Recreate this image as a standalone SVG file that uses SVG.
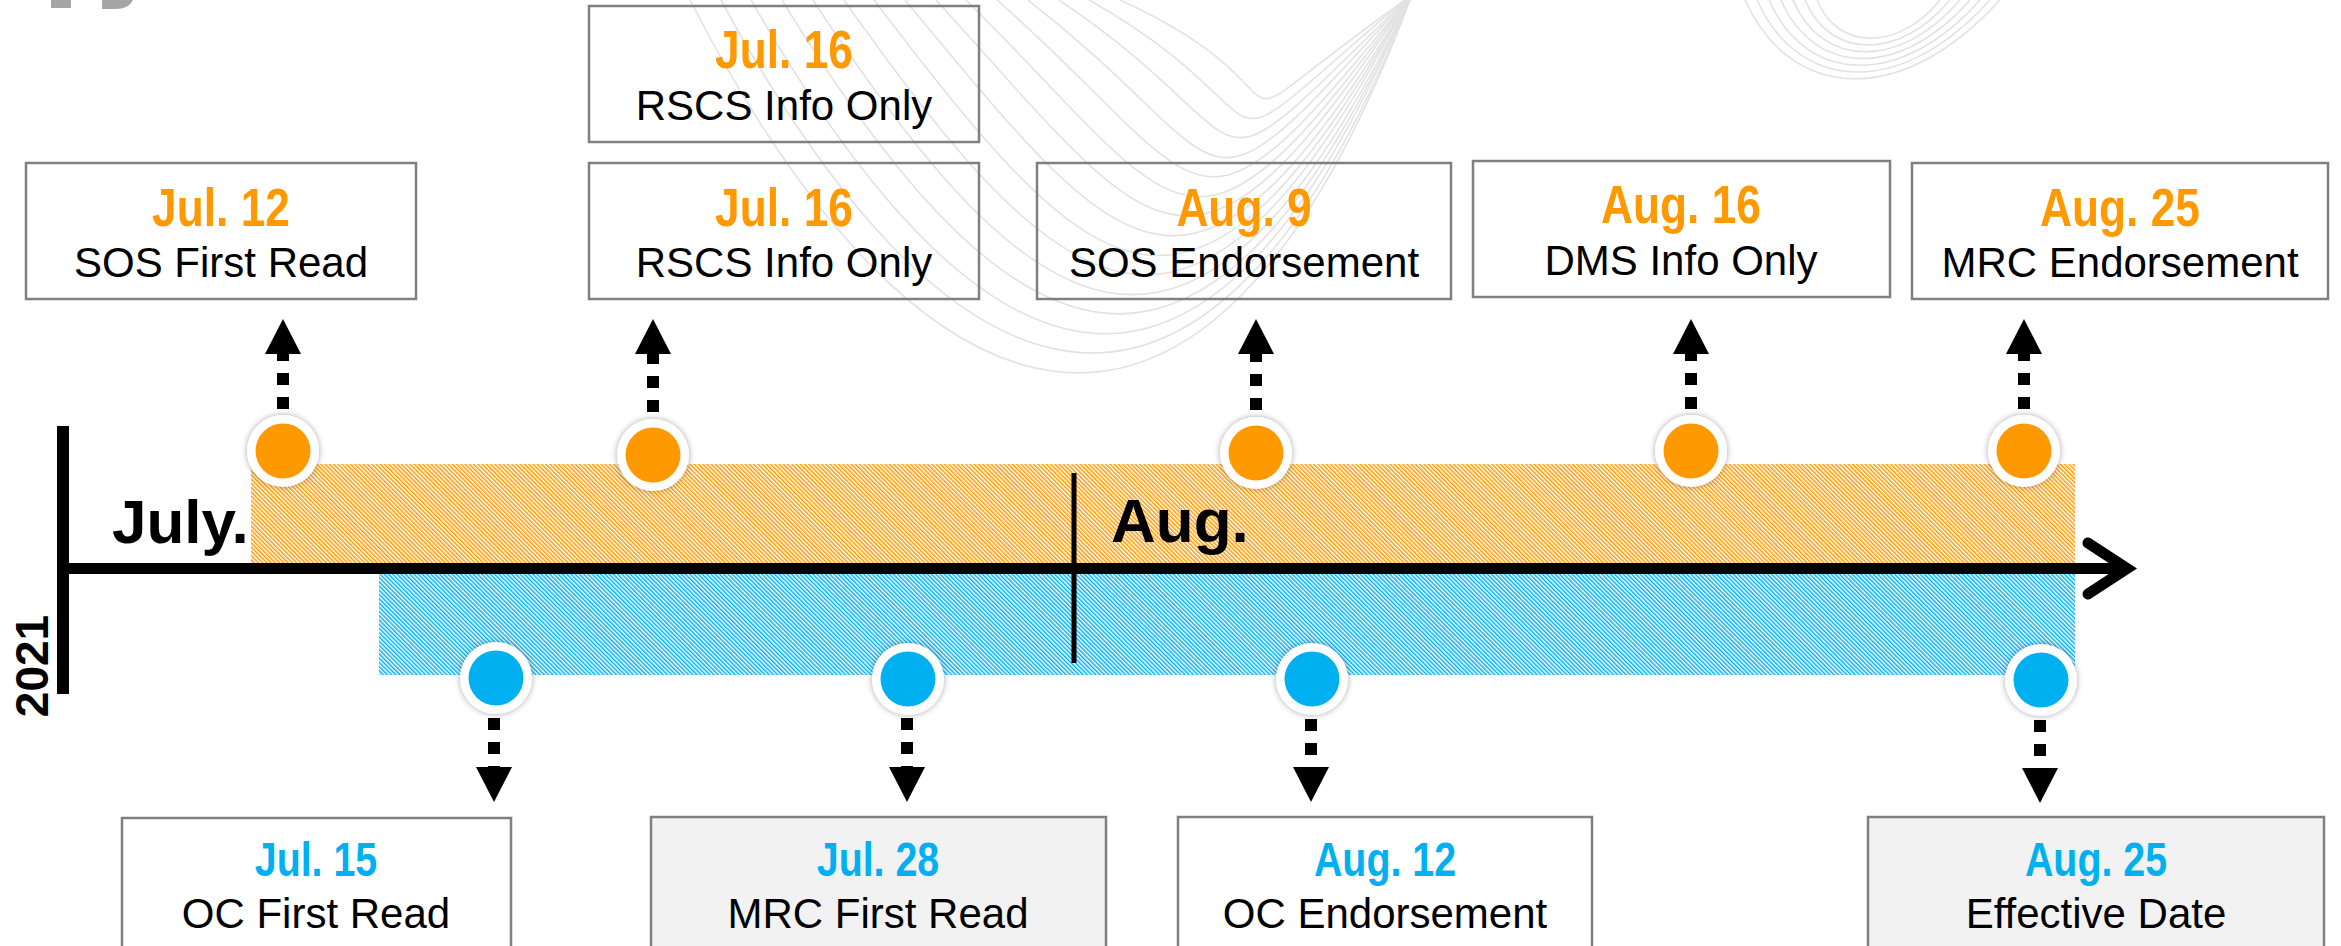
<svg xmlns="http://www.w3.org/2000/svg" width="2341" height="946" viewBox="0 0 2341 946">
<style>
.bx{fill:none;stroke:#808080;stroke-width:2.5}
.bxg{fill:#F2F2F2;stroke:#808080;stroke-width:2.5}
.dt{font-family:"Liberation Sans",Arial,sans-serif;font-weight:bold;text-anchor:middle}
.top{font-size:54px}
.bot{font-size:48px}
.o{fill:#FF9900}
.b{fill:#00B0F0}
.lb{font-family:"Liberation Sans",Arial,sans-serif;font-size:42px;fill:#000;text-anchor:middle}
.mo{font-family:"Liberation Sans",Arial,sans-serif;font-size:62px;font-weight:bold;fill:#000}
.wave{fill:none;stroke:#e2e2e2;stroke-width:1.6}
.dash{stroke:#000;stroke-width:12;stroke-dasharray:12 12;fill:none}
.ring{fill:#fff;filter:url(#sh)}
</style>
<defs>
<pattern id="hO" patternUnits="userSpaceOnUse" width="3" height="3" patternTransform="rotate(-45)">
<rect x="0" y="0" width="1.5" height="3" fill="#FF9900"/>
</pattern>
<pattern id="hB" patternUnits="userSpaceOnUse" width="3" height="3" patternTransform="rotate(-45)">
<rect x="0" y="0" width="1.5" height="3" fill="#00B0F0"/>
</pattern>
<filter id="sh" x="-50%" y="-50%" width="200%" height="200%">
<feDropShadow dx="0" dy="0" stdDeviation="3" flood-color="#000" flood-opacity="0.35"/>
</filter>
</defs>
<rect x="0" y="0" width="2341" height="946" fill="#fff"/>
<g id="background">
<g id="waves-main">
<path class="wave" d="M690,0 C910,430 1200,560 1410,0"/>
<path class="wave" d="M721,0 C941,406 1199,531 1410,0"/>
<path class="wave" d="M751,0 C971,383 1197,503 1409,0"/>
<path class="wave" d="M782,0 C1002,359 1196,474 1409,0"/>
<path class="wave" d="M813,0 C1033,336 1194,446 1409,0"/>
<path class="wave" d="M844,0 C1064,312 1193,417 1408,0"/>
<path class="wave" d="M874,0 C1094,289 1191,389 1408,0"/>
<path class="wave" d="M905,0 C1125,265 1190,360 1408,0"/>
<path class="wave" d="M936,0 C1156,241 1189,331 1407,0"/>
<path class="wave" d="M966,0 C1186,218 1187,303 1407,0"/>
<path class="wave" d="M997,0 C1217,194 1186,274 1407,0"/>
<path class="wave" d="M1028,0 C1248,171 1184,246 1406,0"/>
<path class="wave" d="M1059,0 C1279,147 1183,217 1406,0"/>
<path class="wave" d="M1089,0 C1309,124 1181,189 1405,0"/>
<path class="wave" d="M1120,0 C1340,100 1180,160 1405,0"/>
</g>
<g id="waves-right">
<path class="wave" d="M1745,0 C1790,100 1900,110 2000,0"/>
<path class="wave" d="M1757,0 C1798,92 1900,100 1990,0"/>
<path class="wave" d="M1769,0 C1806,84 1900,90 1980,0"/>
<path class="wave" d="M1781,0 C1814,76 1900,80 1970,0"/>
<path class="wave" d="M1793,0 C1822,68 1900,70 1960,0"/>
<path class="wave" d="M1805,0 C1830,60 1900,60 1950,0"/>
<path class="wave" d="M1817,0 C1838,52 1900,50 1940,0"/>
</g>
<g id="logo-fragment" fill="#A6A6A6">
<rect x="51" y="0" width="20" height="8"/>
<path d="M102,0 H133 C130,6 124,9 116,9 H102 Z"/>
</g>
</g>
<g id="bands">
<rect id="band-orange" x="251" y="464" width="1824" height="99" fill="url(#hO)"/>
<rect id="band-blue" x="379" y="574" width="1696" height="101" fill="url(#hB)"/>
</g>
<g id="axis">
<rect x="57" y="426" width="12" height="268" fill="#000"/>
<line x1="60" y1="568.5" x2="2125" y2="568.5" stroke="#000" stroke-width="11"/>
<polyline points="2088,543 2127,568.5 2088,594" fill="none" stroke="#000" stroke-width="11" stroke-linecap="round"/>
<rect x="1071.5" y="473" width="5" height="190" fill="#000"/>
<text class="mo" x="112" y="543">July.</text>
<text class="mo" x="1111" y="542">Aug.</text>
<text class="mo" style="font-size:46px" text-anchor="middle" transform="translate(48,666) rotate(-90)">2021</text>
</g>
<g id="connectors">
<line class="dash" x1="283" y1="409" x2="283" y2="352"/>
<polygon points="265,354 301,354 283,319"/>
<line class="dash" x1="653" y1="412" x2="653" y2="352"/>
<polygon points="635,354 671,354 653,319"/>
<line class="dash" x1="1256" y1="410" x2="1256" y2="352"/>
<polygon points="1238,354 1274,354 1256,319"/>
<line class="dash" x1="1691" y1="409" x2="1691" y2="352"/>
<polygon points="1673,354 1709,354 1691,319"/>
<line class="dash" x1="2024" y1="409" x2="2024" y2="352"/>
<polygon points="2006,354 2042,354 2024,319"/>
<line class="dash" x1="494" y1="718" x2="494" y2="769"/>
<polygon points="476,767 512,767 494,802"/>
<line class="dash" x1="907" y1="718" x2="907" y2="769"/>
<polygon points="889,767 925,767 907,802"/>
<line class="dash" x1="1311" y1="719" x2="1311" y2="769"/>
<polygon points="1293,767 1329,767 1311,802"/>
<line class="dash" x1="2040" y1="720" x2="2040" y2="770"/>
<polygon points="2022,768 2058,768 2040,803"/>
</g>
<g id="dot-jul12"><circle class="ring" cx="283" cy="451" r="36"/><circle cx="283" cy="451" r="27.5" fill="#FF9900"/></g>
<g id="dot-jul16"><circle class="ring" cx="653" cy="455" r="36"/><circle cx="653" cy="455" r="27.5" fill="#FF9900"/></g>
<g id="dot-aug9"><circle class="ring" cx="1256" cy="453" r="36"/><circle cx="1256" cy="453" r="27.5" fill="#FF9900"/></g>
<g id="dot-aug16"><circle class="ring" cx="1691" cy="451" r="36"/><circle cx="1691" cy="451" r="27.5" fill="#FF9900"/></g>
<g id="dot-aug25o"><circle class="ring" cx="2024" cy="451" r="36"/><circle cx="2024" cy="451" r="27.5" fill="#FF9900"/></g>
<g id="dot-jul15"><circle class="ring" cx="496" cy="678" r="36"/><circle cx="496" cy="678" r="27.5" fill="#00B0F0"/></g>
<g id="dot-jul28"><circle class="ring" cx="908" cy="679" r="36"/><circle cx="908" cy="679" r="27.5" fill="#00B0F0"/></g>
<g id="dot-aug12"><circle class="ring" cx="1312" cy="679" r="36"/><circle cx="1312" cy="679" r="27.5" fill="#00B0F0"/></g>
<g id="dot-aug25b"><circle class="ring" cx="2041" cy="680" r="36"/><circle cx="2041" cy="680" r="27.5" fill="#00B0F0"/></g>
<g id="box-sos-first">
<rect class="bx" x="26" y="163" width="390" height="136"/>
<text class="dt top o" transform="translate(221,226) scale(0.82,1)">Jul. 12</text>
<text class="lb" x="221" y="277">SOS First Read</text>
</g>
<g id="box-rscs-upper">
<rect class="bx" x="589" y="6" width="390" height="136"/>
<text class="dt top o" transform="translate(784,68) scale(0.82,1)">Jul. 16</text>
<text class="lb" x="784" y="120">RSCS Info Only</text>
</g>
<g id="box-rscs-lower">
<rect class="bx" x="589" y="163" width="390" height="136"/>
<text class="dt top o" transform="translate(784,226) scale(0.82,1)">Jul. 16</text>
<text class="lb" x="784" y="277">RSCS Info Only</text>
</g>
<g id="box-sos-endorse">
<rect class="bx" x="1037" y="163" width="414" height="136"/>
<text class="dt top o" transform="translate(1244,226) scale(0.82,1)">Aug. 9</text>
<text class="lb" x="1244" y="277">SOS Endorsement</text>
</g>
<g id="box-dms">
<rect class="bx" x="1473" y="161" width="417" height="136"/>
<text class="dt top o" transform="translate(1681,223) scale(0.82,1)">Aug. 16</text>
<text class="lb" x="1681" y="275">DMS Info Only</text>
</g>
<g id="box-mrc-endorse">
<rect class="bx" x="1912" y="163" width="416" height="136"/>
<text class="dt top o" transform="translate(2120,226) scale(0.82,1)">Aug. 25</text>
<text class="lb" x="2120" y="277">MRC Endorsement</text>
</g>
<g id="box-oc-first">
<rect class="bx" x="122" y="818" width="389" height="140"/>
<text class="dt bot b" transform="translate(316,876) scale(0.82,1)">Jul. 15</text>
<text class="lb" x="316" y="928">OC First Read</text>
</g>
<g id="box-mrc-first">
<rect class="bxg" x="651" y="817" width="455" height="140"/>
<text class="dt bot b" transform="translate(878,876) scale(0.82,1)">Jul. 28</text>
<text class="lb" x="878" y="928">MRC First Read</text>
</g>
<g id="box-oc-endorse">
<rect class="bx" x="1178" y="817" width="414" height="140"/>
<text class="dt bot b" transform="translate(1385,876) scale(0.82,1)">Aug. 12</text>
<text class="lb" x="1385" y="928">OC Endorsement</text>
</g>
<g id="box-effective">
<rect class="bxg" x="1868" y="817" width="456" height="140"/>
<text class="dt bot b" transform="translate(2096,876) scale(0.82,1)">Aug. 25</text>
<text class="lb" x="2096" y="928">Effective Date</text>
</g>
</svg>
